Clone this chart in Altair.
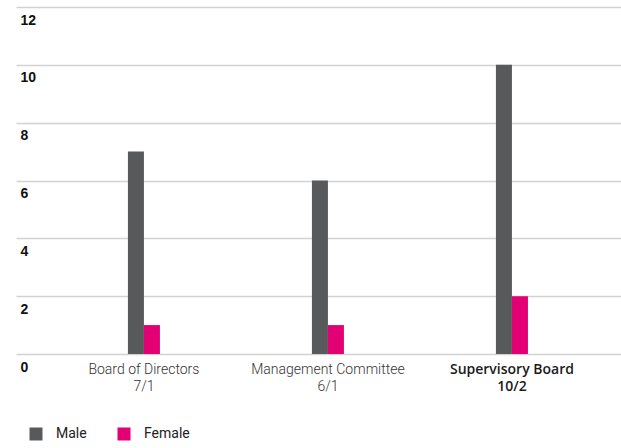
import altair as alt
import pandas as pd

categories = ["Board of Directors", "Management Committee", "Supervisory Board"]
male = [7, 6, 10]
female = [1, 1, 2]
genders = ["Male", "Female"]
colors = ["#58595b", "#e20074"]
y_ticks = [0, 2, 4, 6, 8, 10, 12]

rows = []
for c, m, f in zip(categories, male, female):
    lab = f"{c}\n{m}/{f}"
    rows.append({"category": lab, "gender": "Male", "value": m})
    rows.append({"category": lab, "gender": "Female", "value": f})
df = pd.DataFrame(rows)
cat_order = [f"{c}\n{m}/{f}" for c, m, f in zip(categories, male, female)]

chart = alt.Chart(df).mark_bar().encode(
    x=alt.X(
        "category:N",
        sort=cat_order,
        title=None,
        scale=alt.Scale(paddingInner=0.826, paddingOuter=0.557, align=0.546),
        axis=alt.Axis(
            labelExpr="split(datum.label, '\\n')",
            labelAngle=0,
            labelFontSize=14,
            labelFont=alt.ExprRef(expr="indexof(datum.label, 'Supervisory') >= 0 ? 'Open Sans' : 'Roboto'"),
            labelFontWeight=alt.ExprRef(expr="indexof(datum.label, 'Supervisory') >= 0 ? 600 : 300"),
            labelColor=alt.ExprRef(expr="indexof(datum.label, 'Supervisory') >= 0 ? '#1a1a1a' : '#333333'"),
            labelLineHeight=17,
            labelPadding=8,
            labelBaseline="top",
            ticks=False,
            domain=False,
            grid=False,
        ),
    ),
    xOffset=alt.XOffset("gender:N", sort=genders),
    y=alt.Y(
        "value:Q",
        title=None,
        scale=alt.Scale(domain=[0, 12], nice=False),
        axis=alt.Axis(
            values=y_ticks,
            labelAlign="left",
            labelBaseline="middle",
            labelOffset=13,
            labelPadding=-4,
            tickSize=0,
            ticks=False,
            domain=False,
            labelFont="Liberation Sans",
            labelFontWeight="bold",
            labelFontSize=14,
            labelColor="#111111",
            gridColor="#d2d2d2",
            gridWidth=1.5,
        ),
    ),
    color=alt.Color(
        "gender:N",
        sort=genders,
        scale=alt.Scale(domain=genders, range=colors),
        legend=alt.Legend(
            title=None,
            orient="none",
            direction="horizontal",
            legendX=13,
            legendY=420,
            symbolType="square",
            symbolSize=169,
            symbolStrokeWidth=0,
            symbolOpacity=1,
            labelFont="Roboto",
            labelFontSize=14,
            labelColor="#222222",
            labelOffset=13,
            columnPadding=30,
            padding=0,
        ),
    ),
).properties(
    width=605,
    height=347,
    autosize=alt.AutoSizeParams(type="none"),
    padding={"left": 16, "top": 7, "right": 0, "bottom": 94},
).configure_view(stroke=None)

chart.save("out.html", embed_options={"renderer": "svg", "actions": False})
